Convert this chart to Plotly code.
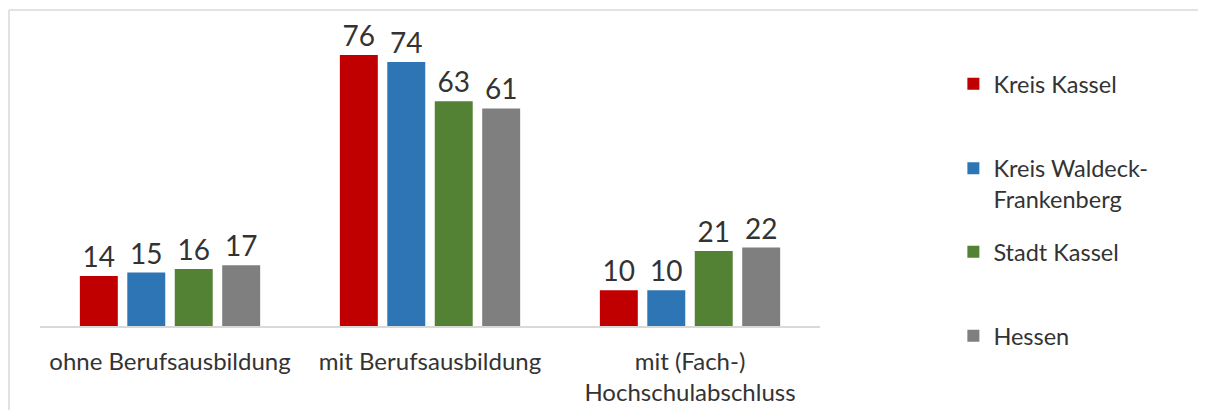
import plotly.graph_objects as go

categories = ["ohne Berufsausbildung", "mit Berufsausbildung", "mit (Fach-)<br>Hochschulabschluss"]
series_names = ["Kreis Kassel", "Kreis Waldeck-<br>Frankenberg", "Stadt Kassel", "Hessen"]
kreis_kassel = [14, 76, 10]
kreis_waldeck = [15, 74, 10]
stadt_kassel = [16, 63, 21]
hessen = [17, 61, 22]
colors = ["#C00000", "#2E75B6", "#548235", "#7F7F7F"]

values = [kreis_kassel, kreis_waldeck, stadt_kassel, hessen]
legend_ids = ["legend", "legend2", "legend3", "legend4"]
legend_y = [0.791, 0.464, 0.242, -0.033]

FONT = "Lato"
TXT = "#333333"

fig = go.Figure()
for name, vals, col, lid in zip(series_names, values, colors, legend_ids):
    fig.add_trace(go.Bar(
        x=categories, y=vals, name=name, marker_color=col,
        marker_line_width=0,
        text=[str(v) for v in vals], textposition="outside",
        textfont=dict(family=FONT, size=28, color=TXT),
        cliponaxis=False, legend=lid,
    ))

layout_legends = {}
for lid, ly in zip(legend_ids, legend_y):
    layout_legends[lid] = dict(
        x=1.171, xanchor="left", y=ly, yanchor="middle",
        font=dict(family=FONT, size=23.5, color=TXT),
        bgcolor="rgba(0,0,0,0)", valign="top",
    )

fig.update_layout(
    width=1190, height=402,
    margin=dict(l=32, r=378, t=12, b=84, autoexpand=False),
    paper_bgcolor="white", plot_bgcolor="white",
    barmode="group", bargap=0.27, bargroupgap=0.2,
    font=dict(family=FONT, color=TXT),
    showlegend=True,
    **layout_legends,
)
fig.update_xaxes(
    showline=True, linecolor="#D9D9D9", linewidth=1.5,
    tickfont=dict(family=FONT, size=24, color=TXT),
    ticks="", showgrid=False, ticklabelstandoff=13, automargin=False,
)
fig.update_yaxes(range=[0, 85.8], visible=False, showgrid=False, automargin=False)

# chart frame: top and left edges only (others fall outside the picture)
frame_x0 = (9 - 40) / 780
frame_y1 = (326 - 10) / 306
fig.add_shape(type="line", xref="paper", yref="paper",
              x0=frame_x0, x1=2.0, y0=frame_y1, y1=frame_y1,
              line=dict(color="#D9D9D9", width=1.5), layer="below")
fig.add_shape(type="line", xref="paper", yref="paper",
              x0=frame_x0, x1=frame_x0, y0=-1.0, y1=frame_y1,
              line=dict(color="#D9D9D9", width=1.5), layer="below")

fig.write_html("out.html")
